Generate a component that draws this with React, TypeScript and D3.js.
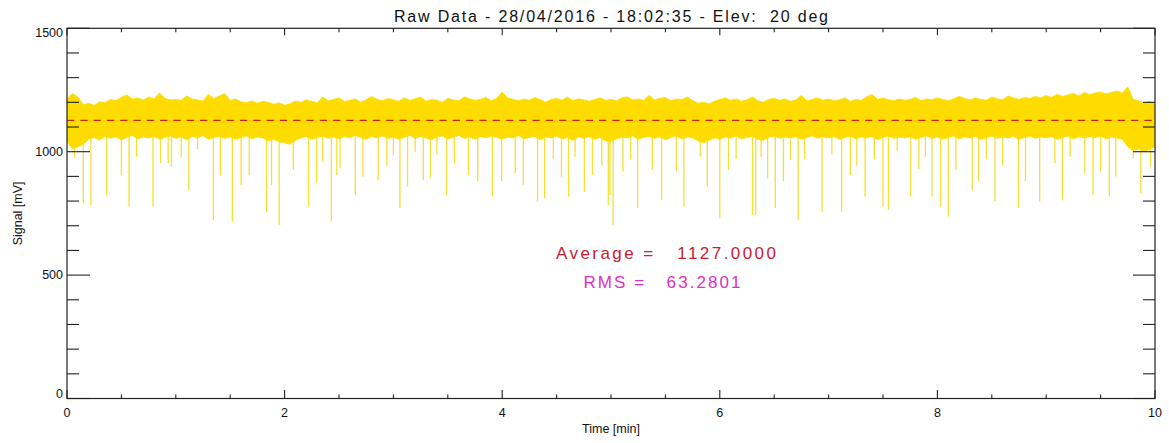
import React from 'react';
import * as d3 from 'd3';

// ---------- data ----------
const TITLE = 'Raw Data - 28/04/2016 - 18:02:35 - Elev:  20 deg';
const X_LABEL = 'Time [min]';
const Y_LABEL = 'Signal [mV]';
const X_MAJOR = [0, 2, 4, 6, 8, 10];
const Y_MAJOR = [0, 500, 1000, 1500];
const AVERAGE = 1127.0;
const RMS = 63.2801;
const BAND_STEP = 0.05; // minutes between envelope samples

// upper envelope of the dense signal band (mV), t = 0 .. 10 min
const bandHigh = [
  1215, 1236, 1222, 1190, 1196, 1188, 1202, 1198, 1212, 1207, 1220, 1230, 1214, 1218, 1209, 1222, 1213, 1238, 1216, 1210,
  1212, 1208, 1226, 1214, 1210, 1205, 1232, 1215, 1226, 1236, 1208, 1214, 1202, 1198, 1206, 1196, 1204, 1200, 1192, 1198,
  1188, 1194, 1206, 1200, 1210, 1204, 1198, 1222, 1206, 1212, 1218, 1204, 1208, 1214, 1200, 1210, 1224, 1212, 1206, 1216,
  1210, 1204, 1218, 1208, 1214, 1222, 1204, 1212, 1208, 1200, 1216, 1210, 1206, 1222, 1214, 1208, 1212, 1220, 1206, 1216,
  1242, 1218, 1212, 1206, 1214, 1208, 1220, 1210, 1200, 1212, 1216, 1208, 1222, 1206, 1214, 1210, 1204, 1212, 1218, 1208,
  1212, 1206, 1218, 1222, 1210, 1214, 1208, 1228, 1210, 1216, 1220, 1206, 1214, 1210, 1222, 1208, 1196, 1200, 1194, 1204,
  1212, 1218, 1208, 1214, 1204, 1210, 1222, 1206, 1200, 1212, 1216, 1208, 1214, 1204, 1210, 1228, 1206, 1212, 1218, 1208,
  1214, 1206, 1210, 1218, 1204, 1212, 1208, 1222, 1232, 1212, 1218, 1210, 1206, 1214, 1208, 1212, 1220, 1206, 1214, 1210,
  1218, 1212, 1206, 1214, 1224, 1216, 1210, 1218, 1212, 1208, 1222, 1214, 1210, 1226, 1218, 1212, 1220, 1216, 1224, 1218,
  1228, 1220, 1232, 1224, 1230, 1236, 1226, 1240, 1232, 1238, 1242, 1234, 1240, 1246, 1238, 1262, 1212, 1206, 1198, 1204,
  1192,
];

// lower envelope of the dense signal band (mV)
const bandLow = [
  1040, 1012, 1020, 1030, 1050, 1058, 1046, 1062, 1054, 1060, 1048, 1058, 1066, 1052, 1060, 1056, 1062, 1050, 1058, 1064,
  1054, 1060, 1048, 1062, 1056, 1066, 1050, 1058, 1062, 1054, 1060, 1050, 1058, 1064, 1052, 1060, 1056, 1044, 1050, 1040,
  1036, 1030, 1046, 1056, 1062, 1050, 1058, 1064, 1054, 1060, 1052, 1062, 1056, 1066, 1058, 1050, 1062, 1056, 1064, 1054,
  1060, 1050, 1058, 1066, 1054, 1062, 1056, 1048, 1060, 1064, 1052, 1058, 1066, 1054, 1060, 1050, 1062, 1056, 1064, 1058,
  1050, 1060, 1056, 1066, 1052, 1058, 1062, 1048, 1060, 1056, 1064, 1052, 1058, 1046, 1060, 1054, 1062, 1050, 1058, 1044,
  1040, 1052, 1060, 1056, 1064, 1050, 1058, 1062, 1054, 1060, 1048, 1058, 1064, 1052, 1060, 1056, 1044, 1036, 1046, 1056,
  1050, 1060, 1056, 1064, 1052, 1058, 1062, 1050, 1046, 1058, 1064, 1054, 1060, 1056, 1062, 1050, 1058, 1064, 1054, 1060,
  1056, 1062, 1050, 1058, 1064, 1052, 1060, 1056, 1062, 1048, 1058, 1064, 1054, 1060, 1056, 1062, 1050, 1058, 1064, 1054,
  1060, 1050, 1058, 1064, 1052, 1060, 1056, 1062, 1048, 1058, 1064, 1054, 1060, 1056, 1062, 1050, 1058, 1064, 1054, 1060,
  1056, 1062, 1050, 1058, 1064, 1052, 1060, 1056, 1062, 1058, 1064, 1052, 1060, 1056, 1050, 1020, 1004, 1012, 1000, 1010,
  1020,
];

// downward spikes: time (min) and minimum value (mV)
const spikeTime = [
  0.07, 0.15, 0.22, 0.365, 0.5, 0.57, 0.64, 0.79, 0.86, 0.93, 0.96, 1.05, 1.12, 1.2, 1.345, 1.41, 1.52, 1.6, 1.675, 1.835,
  1.88, 1.95, 2.08, 2.22, 2.295, 2.35, 2.43, 2.48, 2.51, 2.65, 2.72, 2.86, 2.94, 3.0, 3.06, 3.13, 3.2, 3.275, 3.34, 3.4,
  3.49, 3.56, 3.69, 3.775, 3.91, 3.995, 4.12, 4.195, 4.325, 4.39, 4.47, 4.545, 4.61, 4.67, 4.755, 4.83, 4.915, 4.975, 4.99,
  5.02, 5.11, 5.18, 5.245, 5.38, 5.465, 5.6, 5.67, 5.82, 5.885, 6.0, 6.08, 6.15, 6.3, 6.33, 6.38, 6.44, 6.51, 6.585, 6.65,
  6.72, 6.78, 6.94, 7.03, 7.12, 7.2, 7.26, 7.335, 7.42, 7.5, 7.55, 7.63, 7.755, 7.83, 7.89, 7.95, 8.03, 8.1, 8.17, 8.32,
  8.38, 8.45, 8.53, 8.6, 8.745, 8.81, 8.94, 9.08, 9.15, 9.22, 9.355, 9.43, 9.5, 9.58, 9.64, 9.8, 9.87, 9.96,
];
const spikeMin = [
  975, 792, 784, 825, 906, 778, 980, 778, 954, 954, 940, 980, 845, 1010, 723, 906, 717, 865, 906, 757,
  865, 703, 926, 778, 875, 960, 717, 906, 933, 825, 899, 885, 943, 985, 771, 858, 1000, 885, 895, 990,
  825, 954, 906, 880, 818, 880, 913, 865, 798, 811, 970, 895, 818, 980, 838, 906, 943, 784, 825,
  703, 920, 970, 771, 926, 805, 920, 778, 980, 858, 730, 926, 970, 744, 744, 980, 892, 771, 880, 965,
  723, 970, 757, 990, 757, 906, 943, 818, 970, 778, 764, 1005, 818, 930, 980, 818, 778, 737, 926, 845,
  880, 970, 798, 943, 771, 880, 798, 954, 805, 980, 913, 825, 920, 818, 899, 974, 832, 940,
];

// ---------- layout ----------
const W = 1169;
const H = 443;
const M = { left: 67, right: 1155, top: 28.3, bottom: 398.5 };
const FONT = "'Liberation Sans', Arial, Helvetica, sans-serif";
const BAND_COLOR = '#ffdc00';
const SPIKE_COLOR = '#f6e030';

export default function App() {
  const x = d3.scaleLinear().domain([0, 10]).range([M.left, M.right]);
  const y = d3.scaleLinear().domain([0, 1500]).range([M.bottom, M.top]);

  const bandTimes = bandHigh.map((_, i) => i * BAND_STEP);
  const area = d3
    .area<number>()
    .x((t) => x(t))
    .y0((_, i) => y(bandLow[i]))
    .y1((_, i) => y(bandHigh[i]))
    .curve(d3.curveLinear);
  const bandPath = area(bandTimes) || '';

  const spikes = spikeTime.map((t, i) => {
    const idx = Math.min(bandLow.length - 1, Math.round(t / BAND_STEP));
    return { t, top: Math.max(bandLow[idx], 1070), min: spikeMin[i] };
  });

  const xMinor = d3.range(0, 10.001, 0.5).filter((v) => X_MAJOR.indexOf(Math.round(v * 100) / 100) < 0);
  const yMinor = d3.range(0, 1501, 100).filter((v) => Y_MAJOR.indexOf(v) < 0);

  const axisColor = '#222';
  const yLabelPos = (v: number) => {
    const c = y(v);
    return Math.min(Math.max(c, M.top + 4.8), M.bottom - 4.2);
  };

  return (
    <svg
      width={W}
      height={H}
      style={{ position: 'absolute', left: 0, top: 0, background: '#fff' }}
      fontFamily={FONT}
    >
      <rect x={0} y={0} width={W} height={H} fill="#fff" />
      <defs>
        <clipPath id="plotClip">
          <rect x={M.left} y={M.top} width={M.right - M.left} height={M.bottom - M.top} />
        </clipPath>
      </defs>

      {/* signal */}
      <g clipPath="url(#plotClip)">
        {spikes.map((s, i) => (
          <line
            key={i}
            x1={x(s.t)}
            x2={x(s.t)}
            y1={y(s.top)}
            y2={y(s.min)}
            stroke={SPIKE_COLOR}
            strokeWidth={1.3}
          />
        ))}
        <path d={bandPath} fill={BAND_COLOR} stroke={BAND_COLOR} strokeWidth={0.8} />
        <line
          x1={x(0)}
          x2={x(10)}
          y1={y(AVERAGE)}
          y2={y(AVERAGE)}
          stroke="#d0241e"
          strokeWidth={1.3}
          strokeDasharray="7.3 6"
        />
      </g>

      {/* frame */}
      <rect
        x={M.left}
        y={M.top}
        width={M.right - M.left}
        height={M.bottom - M.top}
        fill="none"
        stroke={axisColor}
        strokeWidth={1.2}
      />

      {/* x ticks */}
      {X_MAJOR.map((v) => (
        <g key={'xm' + v}>
          <line x1={x(v)} x2={x(v)} y1={M.bottom} y2={M.bottom - 8.5} stroke={axisColor} strokeWidth={1.1} />
          <line x1={x(v)} x2={x(v)} y1={M.top} y2={M.top + 7} stroke={axisColor} strokeWidth={1.1} />
          <text x={x(v)} y={417} fontSize={12.5} textAnchor="middle" fill="#111">
            {v}
          </text>
        </g>
      ))}
      {xMinor.map((v) => (
        <g key={'xn' + v}>
          <line x1={x(v)} x2={x(v)} y1={M.bottom} y2={M.bottom - 4} stroke={axisColor} strokeWidth={1.1} />
          <line x1={x(v)} x2={x(v)} y1={M.top} y2={M.top + 4} stroke={axisColor} strokeWidth={1.1} />
        </g>
      ))}

      {/* y ticks */}
      {Y_MAJOR.map((v) => (
        <g key={'ym' + v}>
          <line x1={M.left} x2={M.left + 23} y1={y(v)} y2={y(v)} stroke={axisColor} strokeWidth={1.1} />
          <line x1={M.right} x2={M.right - 22} y1={y(v)} y2={y(v)} stroke={axisColor} strokeWidth={1.1} />
          <text
            x={63}
            y={yLabelPos(v)}
            fontSize={12.5}
            textAnchor="end"
            dominantBaseline="central"
            fill="#111"
          >
            {v}
          </text>
        </g>
      ))}
      {yMinor.map((v) => (
        <g key={'yn' + v}>
          <line x1={M.left} x2={M.left + 12} y1={y(v)} y2={y(v)} stroke={axisColor} strokeWidth={1.1} />
          <line x1={M.right} x2={M.right - 12} y1={y(v)} y2={y(v)} stroke={axisColor} strokeWidth={1.1} />
        </g>
      ))}

      {/* title & labels */}
      <text
        x={(M.left + M.right) / 2}
        y={21.5}
        fontSize={16}
        textAnchor="middle"
        fill="#111"
        style={{ whiteSpace: 'pre' }}
        textLength={434}
        lengthAdjust="spacing"
      >
        {TITLE}
      </text>
      <text x={(M.left + M.right) / 2} y={433} fontSize={12.5} textAnchor="middle" fill="#111">
        {X_LABEL}
      </text>
      <text
        transform={`translate(22,${(M.top + M.bottom) / 2}) rotate(-90)`}
        fontSize={12.5}
        textAnchor="middle"
        fill="#111"
      >
        {Y_LABEL}
      </text>

      {/* statistics */}
      <text
        x={666}
        y={259}
        fontSize={17}
        textAnchor="middle"
        fill="#c8202e"
        style={{ whiteSpace: 'pre' }}
        textLength={220}
        lengthAdjust="spacing"
      >
        {`Average =   ${AVERAGE.toFixed(4)}`}
      </text>
      <text
        x={662}
        y={288}
        fontSize={17}
        textAnchor="middle"
        fill="#dc30c0"
        style={{ whiteSpace: 'pre' }}
        textLength={157}
        lengthAdjust="spacing"
      >
        {`RMS =   ${RMS.toFixed(4)}`}
      </text>
    </svg>
  );
}
